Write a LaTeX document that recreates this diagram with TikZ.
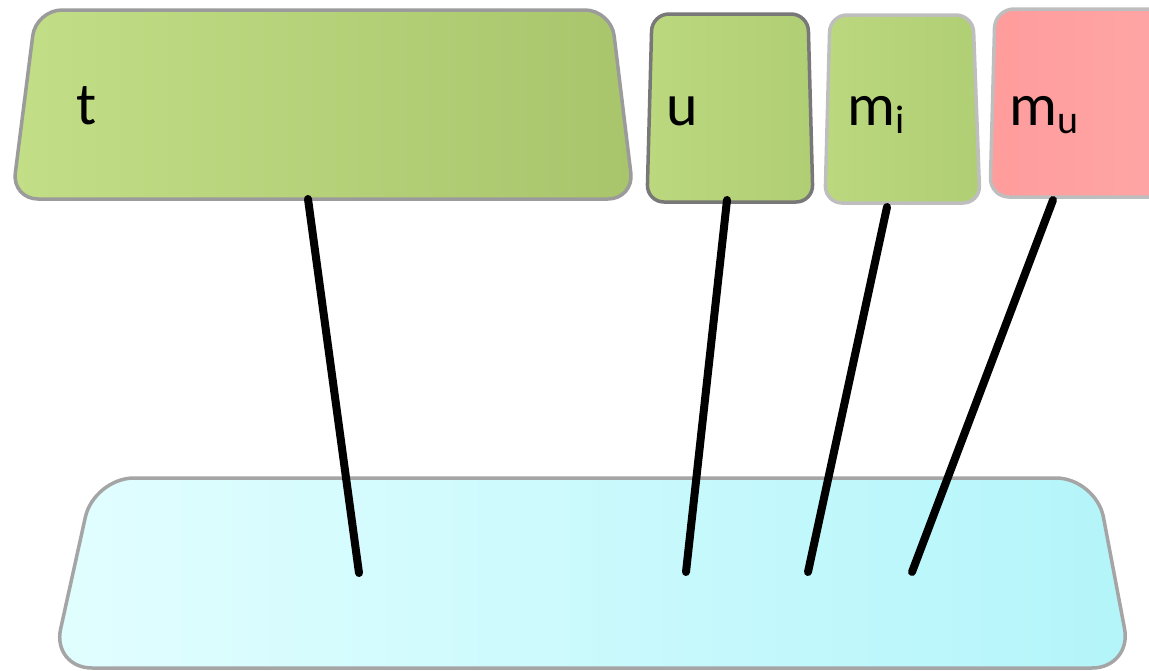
\documentclass[tikz,border=0pt]{standalone}
\usepackage{fontspec}
\setmainfont{Carlito}
\begin{document}
\begin{tikzpicture}[x=1pt,y=-1pt,
  greenbox/.style={left color=gc1,right color=gc2,line width=3.5pt,rounded corners=26pt},
  lbl/.style={anchor=base west,inner sep=0pt,font=\fontsize{60}{72}\selectfont},
  conn/.style={line width=8pt,line cap=round,black}]
\definecolor{gc1}{HTML}{C2DE86}
\definecolor{gc2}{HTML}{A9C56C}
\definecolor{gd1}{HTML}{BBD87E}
\definecolor{gd2}{HTML}{B0CE73}
\definecolor{pk1}{HTML}{FF9C9C}
\definecolor{pk2}{HTML}{FFA6A6}
\definecolor{cy1}{HTML}{E2FEFF}
\definecolor{cy2}{HTML}{B3F5FA}
\useasboundingbox (0,0) rectangle (1149,670);
% top boxes
\path[greenbox,draw={rgb,255:red,155;green,155;blue,155}] (36,10) -- (611,10) -- (634,199) -- (12,199) -- cycle;
\path[greenbox,left color=gd1,right color=gd2,rounded corners=17pt,draw={rgb,255:red,120;green,120;blue,120}] (652,14) -- (808,14) -- (813,202) -- (647,202) -- cycle;
\path[greenbox,left color=gd1,right color=gd2,rounded corners=17pt,draw={rgb,255:red,190;green,190;blue,190}] (830,15) -- (973,15) -- (980,203) -- (825,203) -- cycle;
\path[greenbox,left color=pk1,right color=pk2,rounded corners=19pt,draw={rgb,255:red,190;green,190;blue,190}] (995,9) -- (1175,9) -- (1180,197) -- (990,197) -- cycle;
% bottom box
\path[left color=cy1,right color=cy2,line width=3.5pt,rounded corners=40pt,draw={rgb,255:red,165;green,165;blue,165}] (94,478) -- (1096,478) -- (1132,668) -- (52,668) -- cycle;
% labels
\node[lbl] (t) at (76,124) {t};
\node[lbl] (u) at (666,125) {u};
\node[lbl] (mi) at (847,125) {m\raisebox{-8pt}{\fontsize{40}{40}\selectfont i}};
\node[lbl] (mu) at (1009,125) {m\raisebox{-8pt}{\fontsize{40}{40}\selectfont u}};
% connector end points
\coordinate (ta) at (308,199);
\coordinate (tb) at (359,573);
\coordinate (ua) at (727,200);
\coordinate (ub) at (686,572);
\coordinate (mia) at (887,207);
\coordinate (mib) at (808,572);
\coordinate (mua) at (1053,200);
\coordinate (mub) at (912,572);
\draw[conn] (ta) -- (tb);
\draw[conn] (ua) -- (ub);
\draw[conn] (mia) -- (mib);
\draw[conn] (mua) -- (mub);
\end{tikzpicture}
\end{document}
